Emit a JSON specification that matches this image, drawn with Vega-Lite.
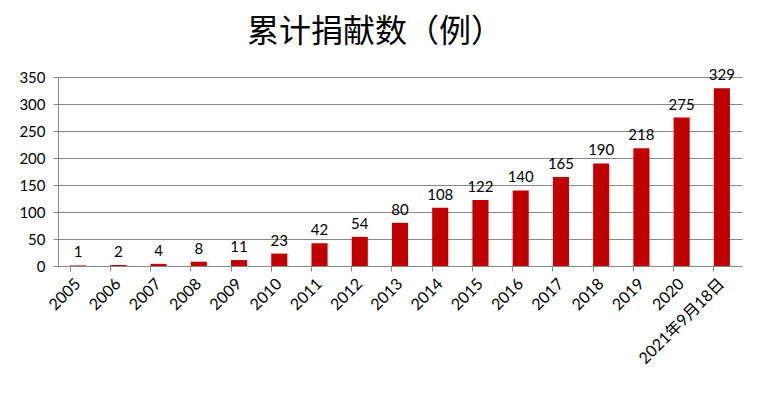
{
  "$schema": "https://vega.github.io/schema/vega-lite/v6.json",
  "width": 684,
  "height": 189,
  "autosize": {"type": "none"},
  "padding": {"left": 58, "top": 77, "right": 25, "bottom": 127},
  "background": "white",
  "title": {
    "text": "累计捐献数（例）",
    "font": "Noto Sans CJK SC",
    "fontSize": 32,
    "fontWeight": "normal",
    "color": "black",
    "anchor": "middle",
    "dx": -25,
    "offset": 19
  },
  "config": {
    "view": {"stroke": null},
    "axis": {
      "labelFont": "Lato",
      "labelFontSize": 15,
      "labelColor": "black",
      "domainColor": "#878787",
      "tickColor": "#878787",
      "gridColor": "#878787",
      "title": null
    }
  },
  "data": {
    "values": [
      {"year": "2005", "count": 1},
      {"year": "2006", "count": 2},
      {"year": "2007", "count": 4},
      {"year": "2008", "count": 8},
      {"year": "2009", "count": 11},
      {"year": "2010", "count": 23},
      {"year": "2011", "count": 42},
      {"year": "2012", "count": 54},
      {"year": "2013", "count": 80},
      {"year": "2014", "count": 108},
      {"year": "2015", "count": 122},
      {"year": "2016", "count": 140},
      {"year": "2017", "count": 165},
      {"year": "2018", "count": 190},
      {"year": "2019", "count": 218},
      {"year": "2020", "count": 275},
      {"year": "2021年9月18日", "count": 329}
    ]
  },
  "encoding": {
    "x": {
      "field": "year",
      "type": "nominal",
      "sort": null,
      "scale": {"paddingInner": 0.6, "paddingOuter": 0.3},
      "axis": {
        "labelAngle": -45,
        "labelAlign": "right",
        "labelBaseline": "middle",
        "labelFont": "Lato, Noto Sans CJK SC",
        "labelFontSize": 16,
        "labelPadding": 10,
        "bandPosition": 0,
        "tickSize": 5,
        "domainWidth": 1
      }
    },
    "y": {
      "field": "count",
      "type": "quantitative",
      "scale": {"domain": [0, 350]},
      "axis": {
        "values": [0, 50, 100, 150, 200, 250, 300, 350],
        "tickSize": 5,
        "labelPadding": 8,
        "grid": true
      }
    }
  },
  "layer": [
    {"mark": {"type": "bar", "color": "#C00000"}},
    {
      "mark": {"type": "text", "baseline": "bottom", "dy": -5, "font": "Lato", "fontSize": 15, "color": "black"},
      "encoding": {"text": {"field": "count", "type": "quantitative"}}
    }
  ]
}
